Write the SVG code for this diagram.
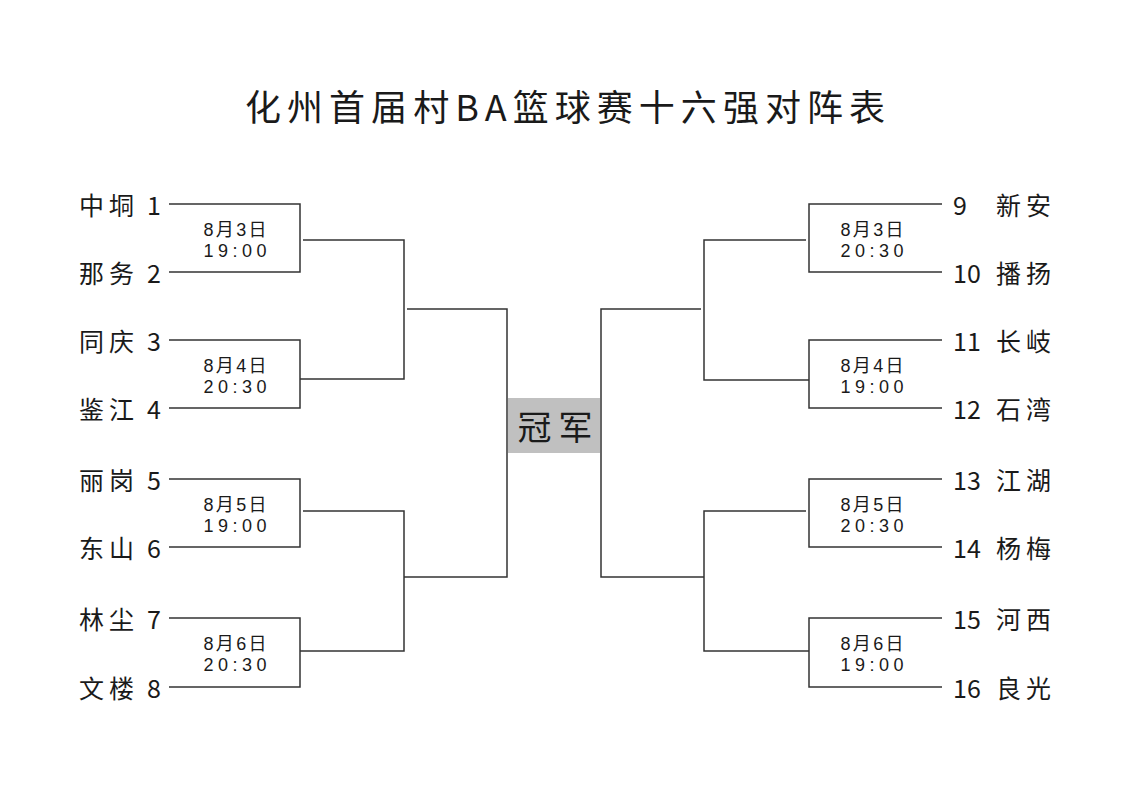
<svg xmlns="http://www.w3.org/2000/svg" width="1135" height="800" viewBox="0 0 1135 800">
  <style>
    text { font-family: "Noto Sans CJK SC", "Noto Sans", sans-serif; fill: #1a1a1a; }
    .title { font-size: 36px; }
    .name { font-size: 25px; letter-spacing: 5px; }
    .num { font-size: 25px; }
    .date { font-family: "Liberation Sans", "Noto Sans CJK SC", sans-serif; font-size: 18px; text-anchor: middle; }
    .champ { font-size: 34px; text-anchor: middle; }
    .ln { stroke: #333; stroke-width: 1.5; fill: none; }
  </style>
  <rect width="1135" height="800" fill="#ffffff"/>
  <text id="title" class="title" x="245" y="121" textLength="640" lengthAdjust="spacing">化州首届村BA篮球赛十六强对阵表</text>

  <g id="connectors" class="ln">
    <!-- left round 1 -->
    <polyline points="169,204 300,204 300,272 169,272"/>
    <polyline points="169,340 300,340 300,408 169,408"/>
    <polyline points="169,479 300,479 300,547 169,547"/>
    <polyline points="169,618 300,618 300,687 169,687"/>
    <!-- left round 2 -->
    <polyline points="303,240 404,240 404,379 300,379"/>
    <polyline points="303,511 404,511 404,651 300,651"/>
    <!-- left round 3 -->
    <polyline points="407,309 507,309 507,577 404,577"/>
    <!-- right round 1 -->
    <polyline points="942,204 809,204 809,272 942,272"/>
    <polyline points="942,340 809,340 809,408 942,408"/>
    <polyline points="942,479 809,479 809,547 942,547"/>
    <polyline points="942,618 809,618 809,687 942,687"/>
    <!-- right round 2 -->
    <polyline points="806,240 704,240 704,380 809,380"/>
    <polyline points="806,511 704,511 704,651 809,651"/>
    <!-- right round 3 -->
    <polyline points="701,309 601,309 601,577 704,577"/>
  </g>

  <g id="champion">
    <rect x="508" y="398" width="92" height="55" fill="#c0c0c0"/>
    <text class="champ" x="555" y="440" textLength="75" lengthAdjust="spacing">冠军</text>
  </g>

  <g id="team1"><text class="name" x="79" y="215">中垌</text><text class="num" x="161" y="215" text-anchor="end">1</text></g>
  <g id="team2"><text class="name" x="79" y="283">那务</text><text class="num" x="161" y="283" text-anchor="end">2</text></g>
  <g id="team3"><text class="name" x="79" y="351">同庆</text><text class="num" x="161" y="351" text-anchor="end">3</text></g>
  <g id="team4"><text class="name" x="79" y="419">鉴江</text><text class="num" x="161" y="419" text-anchor="end">4</text></g>
  <g id="team5"><text class="name" x="79" y="490">丽岗</text><text class="num" x="161" y="490" text-anchor="end">5</text></g>
  <g id="team6"><text class="name" x="79" y="558">东山</text><text class="num" x="161" y="558" text-anchor="end">6</text></g>
  <g id="team7"><text class="name" x="79" y="629">林尘</text><text class="num" x="161" y="629" text-anchor="end">7</text></g>
  <g id="team8"><text class="name" x="79" y="698">文楼</text><text class="num" x="161" y="698" text-anchor="end">8</text></g>

  <g id="team9"><text class="num" x="953" y="215">9</text><text class="name" x="996" y="215">新安</text></g>
  <g id="team10"><text class="num" x="953" y="283">10</text><text class="name" x="996" y="283">播扬</text></g>
  <g id="team11"><text class="num" x="953" y="351">11</text><text class="name" x="996" y="351">长岐</text></g>
  <g id="team12"><text class="num" x="953" y="419">12</text><text class="name" x="996" y="419">石湾</text></g>
  <g id="team13"><text class="num" x="953" y="490">13</text><text class="name" x="996" y="490">江湖</text></g>
  <g id="team14"><text class="num" x="953" y="558">14</text><text class="name" x="996" y="558">杨梅</text></g>
  <g id="team15"><text class="num" x="953" y="629">15</text><text class="name" x="996" y="629">河西</text></g>
  <g id="team16"><text class="num" x="953" y="698">16</text><text class="name" x="996" y="698">良光</text></g>

  <g id="match1"><text class="date" x="235" y="236" textLength="63">8月3日</text><text class="date" x="235" y="257" textLength="63">19:00</text></g>
  <g id="match2"><text class="date" x="235" y="372" textLength="63">8月4日</text><text class="date" x="235" y="393" textLength="63">20:30</text></g>
  <g id="match3"><text class="date" x="235" y="511" textLength="63">8月5日</text><text class="date" x="235" y="532" textLength="63">19:00</text></g>
  <g id="match4"><text class="date" x="235" y="650" textLength="63">8月6日</text><text class="date" x="235" y="671" textLength="63">20:30</text></g>
  <g id="match5"><text class="date" x="872" y="236" textLength="63">8月3日</text><text class="date" x="872" y="257" textLength="63">20:30</text></g>
  <g id="match6"><text class="date" x="872" y="372" textLength="63">8月4日</text><text class="date" x="872" y="393" textLength="63">19:00</text></g>
  <g id="match7"><text class="date" x="872" y="511" textLength="63">8月5日</text><text class="date" x="872" y="532" textLength="63">20:30</text></g>
  <g id="match8"><text class="date" x="872" y="650" textLength="63">8月6日</text><text class="date" x="872" y="671" textLength="63">19:00</text></g>
</svg>
